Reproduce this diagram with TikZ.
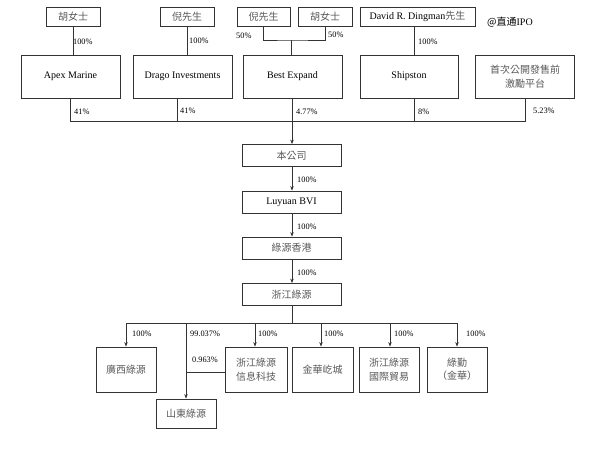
\documentclass[tikz,border=0pt]{standalone}
\usepackage{fontspec}
\setmainfont{Liberation Serif}
\newfontfamily\cjk{Noto Sans CJK TC}
\newfontfamily\cjksc{Noto Sans CJK SC}
\usetikzlibrary{arrows.meta}
\begin{document}
\begin{tikzpicture}[x=1pt,y=-1pt,
  box/.style={draw=black!80, line width=0.8pt, inner sep=0pt, align=center,
    font=\fontsize{10}{13.5}\selectfont},
  ctext/.style={text=black!65},
  pct/.style={font=\fontsize{8.3}{9}\selectfont, anchor=west, inner sep=0pt},
  ln/.style={draw=black!80, line width=0.7pt},
  arr/.style={ln, -{Stealth[length=4.5pt,width=3.5pt]}}]
\useasboundingbox (0,0) rectangle (598,451);

% top owners
\node[box, ctext, minimum width=54pt, minimum height=19pt] (hu1) at (73,16.5) {\cjk 胡女士};
\node[box, ctext, minimum width=54pt, minimum height=19pt] (ni1) at (187,16.5) {\cjk 倪先生};
\node[box, ctext, minimum width=53pt, minimum height=19pt] (ni2) at (263.5,16.5) {\cjk 倪先生};
\node[box, ctext, minimum width=54pt, minimum height=19pt] (hu2) at (325,16.5) {\cjk 胡女士};
\node[box, minimum width=115pt, minimum height=19pt] (ding) at (417.5,16.5) {David R. Dingman{\cjk\color{black!65}先生}};

% holding companies
\node[box, minimum width=99pt, minimum height=43pt] (apex) at (70.5,76.5) {Apex Marine};
\node[box, minimum width=99pt, minimum height=43pt] (drago) at (182.5,76.5) {Drago Investments};
\node[box, minimum width=99pt, minimum height=43pt] (best) at (292.5,76.5) {Best Expand};
\node[box, minimum width=98pt, minimum height=43pt] (ship) at (409,76.5) {Shipston};
\node[box, ctext, minimum width=99pt, minimum height=43pt] (inc) at (525,76.5) {\cjk 首次公開發售前\\\cjk 激勵平台};

% watermark
\node[inner sep=0pt, anchor=west, font=\fontsize{10}{12}\selectfont] (wm) at (487,22.5) {{\cjksc @直通}IPO};

% top connectors
\draw[ln] (hu1.south) -- (hu1.south |- apex.north);
\draw[ln] (ni1.south) -- (ni1.south |- drago.north);
\coordinate (bj) at (291,40);
\draw[ln] (ni2.south) |- (bj) -| (hu2.south);
\draw[ln] (bj) -- (bj |- best.north);
\draw[ln] ([xshift=-3.5pt]ding.south) -- ([xshift=-3.5pt]ding.south |- ship.north);
\node[pct] (p1) at (73,42) {100\%};
\node[pct] (p2) at (189,41) {100\%};
\node[pct] (p3) at (236,36) {50\%};
\node[pct] (p4) at (328,35) {50\%};
\node[pct] (p5) at (418,42) {100\%};

% main company column
\node[box, ctext, minimum width=99pt, minimum height=22pt] (hq) at (291.5,155.5) {\cjk 本公司};
\node[box, minimum width=99pt, minimum height=22pt] (bvi) at (291.5,202) {Luyuan BVI};
\node[box, ctext, minimum width=99pt, minimum height=22pt] (hk) at (291.5,248) {\cjk 綠源香港};
\node[box, ctext, minimum width=99pt, minimum height=22pt] (zj) at (291.5,294.5) {\cjk 浙江綠源};

% bus into the company
\coordinate (bus) at (292,121);
\draw[ln] (apex.south) -- (apex.south |- bus) -- (inc.south |- bus) -- (inc.south);
\draw[ln] ([xshift=-5.5pt]drago.south) -- ([xshift=-5.5pt]drago.south |- bus);
\draw[ln] ([xshift=5pt]ship.south) -- ([xshift=5pt]ship.south |- bus);
\draw[ln] (best.south -| bus) -- (bus);
\draw[arr] (bus) -- (bus |- hq.north);
\node[pct] (q1) at (74,112) {41\%};
\node[pct] (q2) at (180,111) {41\%};
\node[pct] (q3) at (296,112) {4.77\%};
\node[pct] (q4) at (418,112) {8\%};
\node[pct] (q5) at (533,111) {5.23\%};

\draw[arr] (hq.south -| bus) -- (bus |- bvi.north);
\draw[arr] (bvi.south -| bus) -- (bus |- hk.north);
\draw[arr] (hk.south -| bus) -- (bus |- zj.north);
\node[pct] (r1) at (297,180) {100\%};
\node[pct] (r2) at (297,227) {100\%};
\node[pct] (r3) at (297,273) {100\%};

% subsidiaries
\node[box, ctext, minimum width=60pt, minimum height=45pt] (gx) at (126,369.5) {\cjk 廣西綠源};
\node[box, ctext, minimum width=60pt, minimum height=29pt] (sd) at (186,413.5) {\cjk 山東綠源};
\node[box, ctext, minimum width=62pt, minimum height=45pt] (xx) at (256,369.5) {\cjk 浙江綠源\\\cjk 信息科技};
\node[box, ctext, minimum width=61pt, minimum height=45pt] (jh) at (322.5,369.5) {\cjk 金華屹城};
\node[box, ctext, minimum width=60pt, minimum height=45pt] (gj) at (389,369.5) {\cjk 浙江綠源\\\cjk 國際貿易};
\node[box, ctext, minimum width=60pt, minimum height=45pt] (lq) at (457,369.5) {\cjk 綠勤\\\cjk （金華）};

\coordinate (sb) at (292,323);
\draw[ln] (zj.south -| sb) -- (sb);
\draw[ln] (gx.north |- sb) -- (lq.north |- sb);
\draw[arr] (gx.north |- sb) -- (gx.north);
\draw[arr] (sd.north |- sb) -- (sd.north);
\draw[arr] ([xshift=-1pt]xx.north |- sb) -- ([xshift=-1pt]xx.north);
\draw[arr] ([xshift=-1.5pt]jh.north |- sb) -- ([xshift=-1.5pt]jh.north);
\draw[arr] ([xshift=1pt]gj.north |- sb) -- ([xshift=1pt]gj.north);
\draw[arr] (lq.north |- sb) -- (lq.north);
\draw[ln] ([yshift=-2.5pt]xx.west) -- ([yshift=-2.5pt]xx.west -| sd.north);
\node[pct] (s1) at (132,334) {100\%};
\node[pct] (s2) at (190,334) {99.037\%};
\node[pct] (s3) at (192,360) {0.963\%};
\node[pct] (s4) at (258,334) {100\%};
\node[pct] (s5) at (324,334) {100\%};
\node[pct] (s6) at (394,334) {100\%};
\node[pct] (s7) at (466,334) {100\%};
\end{tikzpicture}
\end{document}
